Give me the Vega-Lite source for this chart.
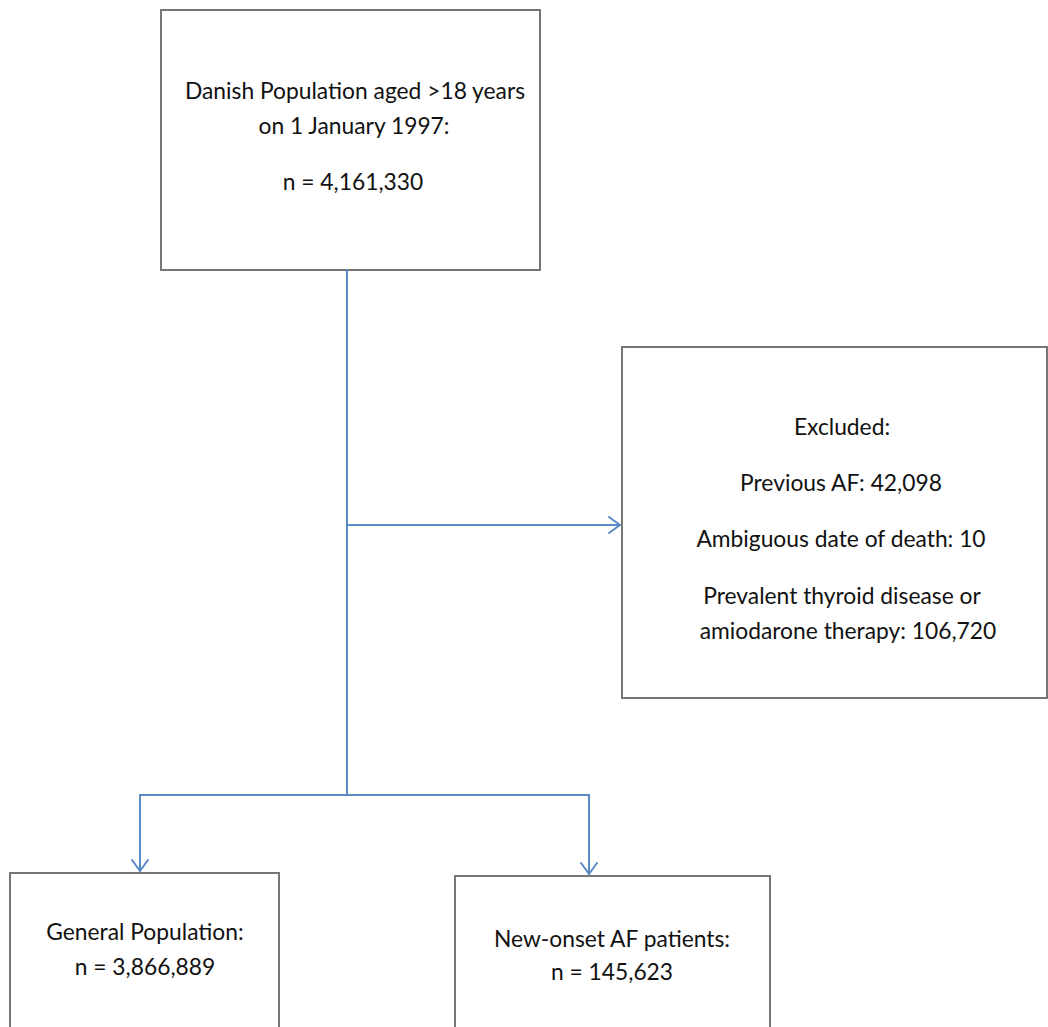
{
  "$schema": "https://vega.github.io/schema/vega-lite/v6.json",
  "width": 1048,
  "height": 1027,
  "autosize": "none",
  "padding": 0,
  "background": "white",
  "config": {"view": {"stroke": null}},
  "datasets": {
    "boxes": [
      {"box": "Population", "x": 161, "x2": 540, "y": 10, "y2": 270},
      {"box": "Excluded", "x": 622, "x2": 1047, "y": 347, "y2": 698},
      {"box": "General", "x": 10, "x2": 279, "y": 873, "y2": 1040},
      {"box": "New-onset AF", "x": 455, "x2": 770, "y": 876, "y2": 1040}
    ],
    "links": [
      {"part": "trunk", "x": 347, "y": 270, "x2": 347, "y2": 795},
      {"part": "to excluded", "x": 347, "y": 525, "x2": 620, "y2": 525},
      {"part": "split", "x": 140, "y": 795, "x2": 589, "y2": 795},
      {"part": "to general", "x": 140, "y": 795, "x2": 140, "y2": 871},
      {"part": "to AF", "x": 589, "y": 795, "x2": 589, "y2": 874},
      {"part": "head excluded a", "x": 609, "y": 517, "x2": 620, "y2": 525},
      {"part": "head excluded b", "x": 609, "y": 533, "x2": 620, "y2": 525},
      {"part": "head general a", "x": 132, "y": 860, "x2": 140, "y2": 871},
      {"part": "head general b", "x": 148, "y": 860, "x2": 140, "y2": 871},
      {"part": "head AF a", "x": 581, "y": 863, "x2": 589, "y2": 874},
      {"part": "head AF b", "x": 597, "y": 863, "x2": 589, "y2": 874}
    ],
    "labels": [
      {"text": "Danish Population aged >18 years", "x": 355, "y": 92},
      {"text": "on 1 January 1997:", "x": 354, "y": 127},
      {"text": "n = 4,161,330", "x": 353, "y": 183},
      {"text": "Excluded:", "x": 842, "y": 428},
      {"text": "Previous AF: 42,098", "x": 841, "y": 484},
      {"text": "Ambiguous date of death: 10", "x": 841, "y": 540},
      {"text": "Prevalent thyroid disease or", "x": 842, "y": 597},
      {"text": "amiodarone therapy: 106,720", "x": 848, "y": 632},
      {"text": "General Population:", "x": 145, "y": 933},
      {"text": "n = 3,866,889", "x": 145, "y": 968},
      {"text": "New-onset AF patients:", "x": 612, "y": 940},
      {"text": "n = 145,623", "x": 612, "y": 973}
    ]
  },
  "layer": [
    {
      "data": {"name": "boxes"},
      "mark": {"type": "rect", "fill": "white", "stroke": "#767676", "strokeWidth": 2},
      "encoding": {
        "x": {"field": "x", "type": "quantitative", "scale": {"domain": [0, 1048], "range": [0, 1048], "nice": false, "zero": false}, "axis": null},
        "x2": {"field": "x2"},
        "y": {"field": "y", "type": "quantitative", "scale": {"domain": [0, 1027], "range": [0, 1027], "nice": false, "zero": false}, "axis": null},
        "y2": {"field": "y2"}
      }
    },
    {
      "data": {"name": "links"},
      "mark": {"type": "rule", "stroke": "#5A8AC6", "strokeWidth": 2, "strokeCap": "round"},
      "encoding": {
        "x": {"field": "x", "type": "quantitative", "scale": {"domain": [0, 1048], "range": [0, 1048], "nice": false, "zero": false}, "axis": null},
        "x2": {"field": "x2"},
        "y": {"field": "y", "type": "quantitative", "scale": {"domain": [0, 1027], "range": [0, 1027], "nice": false, "zero": false}, "axis": null},
        "y2": {"field": "y2"}
      }
    },
    {
      "data": {"name": "labels"},
      "mark": {"type": "text", "font": "Lato", "fontSize": 22.8, "color": "#111111", "align": "center", "baseline": "middle"},
      "encoding": {
        "x": {"field": "x", "type": "quantitative", "scale": {"domain": [0, 1048], "range": [0, 1048], "nice": false, "zero": false}, "axis": null},
        "y": {"field": "y", "type": "quantitative", "scale": {"domain": [0, 1027], "range": [0, 1027], "nice": false, "zero": false}, "axis": null},
        "text": {"field": "text"}
      }
    }
  ]
}
